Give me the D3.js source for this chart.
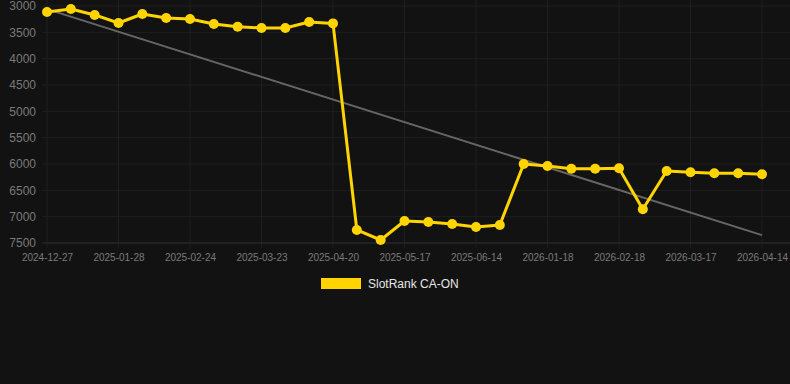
<!DOCTYPE html>
<html lang="en">
<head>
<meta charset="UTF-8">
<title>SlotRank CA-ON</title>
<style>
    html, body {
        margin: 0;
        padding: 0;
        background: #121212;
    }
    svg {
        display: block;
        font-family: Arial, "Liberation Sans", sans-serif;
    }
    .grid line {
        stroke: #1f1f1f;
        stroke-width: 1;
    }
    .axis text {
        fill: #7a7a7a;
    }
    .axis path, .axis line {
        stroke: none;
    }
</style>
</head>
<body>
<div id="chart"></div>
<script src="https://d3js.org/d3.v7.min.js"></script>
<script>
// rank per observation (31 points, a label shown on every 3rd one)
const ranks = [
    3114, 3057, 3170, 3323, 3152, 3228, 3247, 3342, 3393, 3418, 3418,
    3304, 3330, 7253, 7443, 7082, 7101, 7139, 7196, 7158, 6000, 6038,
    6089, 6089, 6082, 6860, 6133, 6158, 6177, 6177, 6196
];
const tickLabels = [
    "2024-12-27", "2025-01-28", "2025-02-24", "2025-03-23", "2025-04-20",
    "2025-05-17", "2025-06-14", "2026-01-18", "2026-02-18", "2026-03-17",
    "2026-04-14"
];
const yTicks = [3000, 3500, 4000, 4500, 5000, 5500, 6000, 6500, 7000, 7500];
const trend = [3060, 7350]; // trend line, first and last point
const seriesName = "SlotRank CA-ON";

const width = 790, height = 384;
const margin = { top: 6, right: 28, bottom: 141, left: 47 };

const svg = d3.select("#chart").append("svg")
    .attr("width", width)
    .attr("height", height);

svg.append("rect")
    .attr("width", width)
    .attr("height", height)
    .attr("fill", "#121212");

const x = d3.scaleLinear()
    .domain([0, ranks.length - 1])
    .range([margin.left, width - margin.right]);

// rank axis goes down: 3000 at the top
const y = d3.scaleLinear()
    .domain([3000, 7500])
    .range([margin.top, height - margin.bottom]);

const tickIdx = tickLabels.map((d, i) => i * 3);

// grid
svg.append("g").attr("class", "grid")
    .selectAll("line").data(yTicks).join("line")
    .attr("x1", margin.left - 5).attr("x2", width)
    .attr("y1", d => y(d)).attr("y2", d => y(d));

svg.append("g").attr("class", "grid")
    .selectAll("line").data(tickIdx).join("line")
    .attr("x1", d => x(d)).attr("x2", d => x(d))
    .attr("y1", 0).attr("y2", y(7500) + 5);

svg.append("line")
    .attr("x1", margin.left - 5).attr("x2", width)
    .attr("y1", y(7500)).attr("y2", y(7500))
    .attr("stroke", "#2a2a2a");

// axes
svg.append("g").attr("class", "axis")
    .attr("transform", `translate(${margin.left - 9},0)`)
    .call(d3.axisLeft(y).tickValues(yTicks).tickSize(0).tickPadding(2).tickFormat(d3.format("d")))
    .call(g => g.selectAll("text").attr("font-size", 12));

svg.append("g").attr("class", "axis")
    .attr("transform", `translate(0,${y(7500) + 6})`)
    .call(d3.axisBottom(x).tickValues(tickIdx).tickSize(0).tickPadding(5)
        .tickFormat((d, i) => tickLabels[i]))
    .call(g => g.selectAll("text").attr("font-size", 10));

// trend line
svg.append("line")
    .attr("x1", x(0)).attr("y1", y(trend[0]))
    .attr("x2", x(ranks.length - 1)).attr("y2", y(trend[1]))
    .attr("stroke", "#666")
    .attr("stroke-width", 2);

// series
const line = d3.line()
    .x((d, i) => x(i))
    .y(d => y(d));

svg.append("path")
    .datum(ranks)
    .attr("d", line)
    .attr("fill", "none")
    .attr("stroke", "#ffd400")
    .attr("stroke-width", 3)
    .attr("stroke-linejoin", "round");

svg.append("g")
    .selectAll("circle").data(ranks).join("circle")
    .attr("cx", (d, i) => x(i))
    .attr("cy", d => y(d))
    .attr("r", 5)
    .attr("fill", "#ffd400");

// legend
const legend = svg.append("g").attr("transform", "translate(321,278)");
legend.append("rect")
    .attr("width", 40).attr("height", 11)
    .attr("fill", "#ffd400");
legend.append("text")
    .attr("x", 47).attr("y", 10)
    .attr("font-size", 12)
    .attr("fill", "#e6e6e6")
    .text(seriesName);
</script>
</body>
</html>
